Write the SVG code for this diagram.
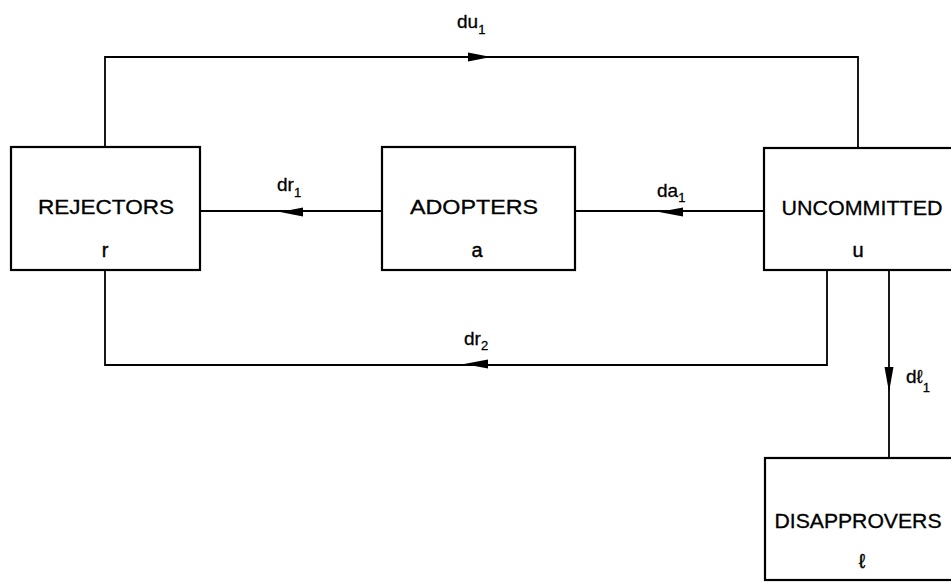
<svg xmlns="http://www.w3.org/2000/svg" width="951" height="582" viewBox="0 0 951 582">
<defs>
<style>
.box{fill:#fff;stroke:#000;stroke-width:2.2}
.ln{fill:none;stroke:#000;stroke-width:1.8}
.t{font-family:"Liberation Sans",Arial,sans-serif;font-size:21px;fill:#000;stroke:#000;stroke-width:0.3;text-anchor:middle}
.v{font-family:"Liberation Sans",Arial,sans-serif;font-size:20px;fill:#000;stroke:#000;stroke-width:0.4;text-anchor:middle}
.lb{font-family:"Liberation Sans",Arial,sans-serif;font-size:19px;fill:#000;stroke:#000;stroke-width:0.3}
.sub{font-size:13px}
.ah{fill:#000}
</style>
</defs>
<rect width="951" height="582" fill="#fff"/>
<g id="connectors">
<polyline class="ln" points="105,147 105,57 858,57 858,148"/>
<line class="ln" x1="200" y1="211" x2="383" y2="211"/>
<line class="ln" x1="575" y1="211" x2="763" y2="211"/>
<polyline class="ln" points="105,270 105,365 827,365 827,270"/>
<line class="ln" x1="889" y1="270" x2="889" y2="458"/>
<polygon class="ah" points="491,57 468,52.5 468,61.5"/>
<polygon class="ah" points="280,212 303,207.5 303,216.5"/>
<polygon class="ah" points="659,212 683,207.5 683,216.5"/>
<polygon class="ah" points="464,364 488,359.5 488,368.5"/>
<polygon class="ah" points="889,392 884.5,367 893.5,367"/>
<text class="lb" x="457" y="28">du<tspan class="sub" dy="6">1</tspan></text>
<text class="lb" x="277" y="191">dr<tspan class="sub" dy="6">1</tspan></text>
<text class="lb" x="657" y="197">da<tspan class="sub" dy="5">1</tspan></text>
<text class="lb" x="464" y="345">dr<tspan class="sub" dy="5">2</tspan></text>
<text class="lb" x="906" y="383">dℓ<tspan class="sub" dy="9">1</tspan></text>
</g>
<g id="rejectors">
<rect class="box" x="11" y="147" width="189" height="123"/>
<text class="t" x="106" y="214" textLength="136" lengthAdjust="spacingAndGlyphs">REJECTORS</text>
<text class="v" x="105" y="257">r</text>
</g>
<g id="adopters">
<rect class="box" x="382" y="147" width="193" height="123"/>
<text class="t" x="474" y="214" textLength="128" lengthAdjust="spacingAndGlyphs">ADOPTERS</text>
<text class="v" x="477" y="257">a</text>
</g>
<g id="uncommitted">
<rect class="box" x="764" y="148" width="195" height="122"/>
<text class="t" x="862" y="215" textLength="161" lengthAdjust="spacingAndGlyphs">UNCOMMITTED</text>
<text class="v" x="858" y="257">u</text>
</g>
<g id="disapprovers">
<rect class="box" x="765" y="458" width="195" height="122"/>
<text class="t" x="858" y="528" textLength="167" lengthAdjust="spacingAndGlyphs">DISAPPROVERS</text>
<text class="v" x="862" y="568">ℓ</text>
</g>
</svg>
